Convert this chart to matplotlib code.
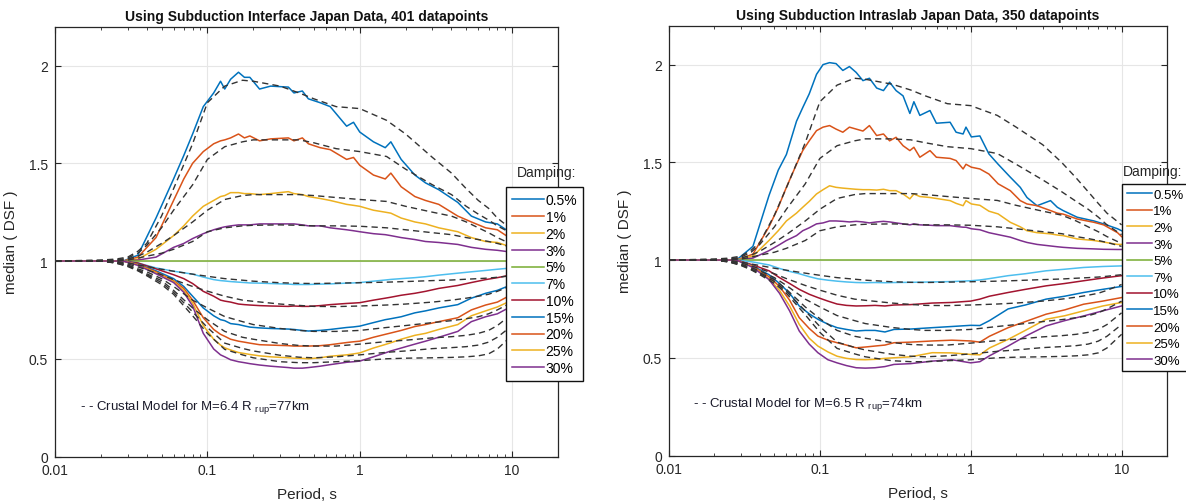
import numpy as np
import matplotlib
matplotlib.use('Agg')
import matplotlib.pyplot as plt
from matplotlib.ticker import LogLocator, NullFormatter
import matplotlib.transforms as mtransforms

plt.rcParams['font.family'] = ['Liberation Sans', 'DejaVu Sans']
plt.rcParams['mathtext.fontset'] = 'custom'
plt.rcParams['mathtext.rm'] = 'Liberation Sans'
plt.rcParams['mathtext.it'] = 'Liberation Sans'

# ---------------- data ----------------
DAMPING_LABELS = ['0.5%', '1%', '2%', '3%', '5%', '7%', '10%', '15%', '20%', '25%', '30%']
COLORS = ['#0072BD', '#D95319', '#EDB120', '#7E2F8E', '#77AC30', '#4DBEEE',
          '#A2142F', '#0072BD', '#D95319', '#EDB120', '#7E2F8E']

TITLE_L = 'Using Subduction Interface Japan Data, 401 datapoints'
TITLE_R = 'Using Subduction Intraslab Japan Data, 350 datapoints'
NOTE_L = r'- - Crustal Model for M=6.4 R $_{\rm rup}$=77km'
NOTE_R = r'- - Crustal Model for M=6.5 R $_{\rm rup}$=74km'

X_TICKS = [0.01, 0.1, 1, 10]
X_TICKLABELS = ['0.01', '0.1', '1', '10']
Y_TICKS = [0, 0.5, 1, 1.5, 2]
Y_TICKLABELS = ['0', '0.5', '1', '1.5', '2']

# flat 5% reference
PERIOD_FLAT = [0.01, 10]
DSF_5 = [1.0, 1.0]

# ---- left chart: observed medians ----
PERIOD_L = [0.01, 0.02, 0.028, 0.035, 0.046, 0.06, 0.07, 0.08, 0.094, 0.11, 0.122, 0.13,
            0.142, 0.16, 0.175, 0.19, 0.22, 0.26, 0.34, 0.37, 0.42, 0.46, 0.55, 0.64,
            0.82, 0.91, 1.0, 1.23, 1.47, 1.6, 1.87, 2.3, 2.7, 3.3, 4.4, 5.4, 6.7, 8, 10]
L_05 = [1.0, 1.0, 1.0, 1.03, 1.22, 1.42, 1.54, 1.65, 1.79, 1.86, 1.92, 1.88, 1.93, 1.966,
        1.94, 1.94, 1.88, 1.895, 1.89, 1.86, 1.87, 1.83, 1.81, 1.79, 1.69, 1.71, 1.66, 1.61,
        1.58, 1.61, 1.52, 1.44, 1.40, 1.365, 1.30, 1.23, 1.20, 1.19, 1.14]
L_1 = [1.0, 1.0, 1.0, 1.02, 1.12, 1.31, 1.42, 1.50, 1.56, 1.60, 1.615, 1.62, 1.63, 1.65,
       1.63, 1.64, 1.615, 1.625, 1.63, 1.615, 1.63, 1.60, 1.58, 1.57, 1.52, 1.53, 1.49, 1.44,
       1.42, 1.45, 1.38, 1.33, 1.31, 1.29, 1.23, 1.20, 1.17, 1.16, 1.11]
L_2 = [1.0, 1.0, 1.0, 1.01, 1.06, 1.13, 1.18, 1.23, 1.28, 1.31, 1.33, 1.335, 1.35, 1.35,
       1.345, 1.345, 1.34, 1.345, 1.355, 1.345, 1.34, 1.33, 1.32, 1.31, 1.29, 1.285, 1.28,
       1.26, 1.25, 1.245, 1.22, 1.20, 1.19, 1.17, 1.15, 1.12, 1.10, 1.095, 1.07]
L_3 = [1.0, 1.0, 1.0, 1.005, 1.02, 1.07, 1.09, 1.115, 1.14, 1.16, 1.17, 1.175, 1.18, 1.185,
       1.185, 1.185, 1.19, 1.19, 1.19, 1.19, 1.185, 1.18, 1.18, 1.17, 1.16, 1.155, 1.15,
       1.14, 1.135, 1.13, 1.12, 1.11, 1.10, 1.095, 1.085, 1.07, 1.06, 1.055, 1.045]
L_7 = [1.0, 1.0, 1.0, 0.99, 0.965, 0.948, 0.94, 0.933, 0.918, 0.905, 0.90, 0.898, 0.895,
       0.892, 0.89, 0.888, 0.887, 0.885, 0.882, 0.88, 0.88, 0.88, 0.882, 0.883, 0.887, 0.888,
       0.89, 0.897, 0.903, 0.906, 0.91, 0.915, 0.92, 0.928, 0.938, 0.945, 0.952, 0.958, 0.965]
L_10 = [1.0, 1.0, 1.0, 0.99, 0.96, 0.93, 0.91, 0.885, 0.845, 0.82, 0.80, 0.795, 0.79, 0.78,
        0.777, 0.775, 0.772, 0.77, 0.768, 0.77, 0.768, 0.768, 0.772, 0.777, 0.783, 0.785,
        0.787, 0.80, 0.81, 0.815, 0.825, 0.835, 0.845, 0.86, 0.875, 0.89, 0.905, 0.915, 0.93]
L_15 = [1.0, 1.0, 1.0, 0.985, 0.95, 0.91, 0.87, 0.82, 0.76, 0.72, 0.70, 0.695, 0.68, 0.675,
        0.668, 0.662, 0.658, 0.655, 0.652, 0.65, 0.645, 0.642, 0.645, 0.65, 0.66, 0.663,
        0.667, 0.685, 0.70, 0.705, 0.715, 0.735, 0.745, 0.76, 0.777, 0.81, 0.835, 0.85, 0.88]
L_20 = [1.0, 1.0, 1.0, 0.983, 0.945, 0.90, 0.86, 0.80, 0.71, 0.65, 0.625, 0.615, 0.60, 0.59,
        0.585, 0.58, 0.572, 0.57, 0.567, 0.565, 0.565, 0.565, 0.567, 0.572, 0.583, 0.587,
        0.59, 0.61, 0.625, 0.632, 0.645, 0.665, 0.675, 0.69, 0.71, 0.75, 0.775, 0.79, 0.83]
L_25 = [1.0, 1.0, 1.0, 0.98, 0.94, 0.895, 0.85, 0.785, 0.67, 0.60, 0.57, 0.556, 0.545, 0.532,
        0.527, 0.522, 0.515, 0.51, 0.505, 0.503, 0.502, 0.50, 0.505, 0.513, 0.52, 0.525,
        0.53, 0.555, 0.573, 0.582, 0.60, 0.62, 0.63, 0.65, 0.675, 0.72, 0.745, 0.765, 0.80]
L_30 = [1.0, 1.0, 1.0, 0.978, 0.935, 0.89, 0.84, 0.77, 0.63, 0.55, 0.52, 0.51, 0.495, 0.485,
        0.48, 0.475, 0.468, 0.462, 0.455, 0.452, 0.452, 0.455, 0.462, 0.47, 0.482, 0.485,
        0.488, 0.51, 0.53, 0.54, 0.555, 0.575, 0.59, 0.61, 0.64, 0.69, 0.715, 0.73, 0.77]

# ---- crustal model curves ----
PERIOD_M = [0.01, 0.02, 0.025, 0.03, 0.035, 0.04, 0.05, 0.06, 0.08, 0.1, 0.13, 0.17, 0.2,
            0.3, 0.4, 0.5, 0.7, 1, 1.5, 2, 3, 4, 5, 6, 7, 8, 10]
ML_05 = [1.0, 1.005, 1.01, 1.02, 1.05, 1.09, 1.23, 1.37, 1.60, 1.81, 1.895, 1.925, 1.92,
         1.895, 1.86, 1.83, 1.79, 1.78, 1.72, 1.65, 1.53, 1.45, 1.37, 1.31, 1.27, 1.22, 1.16]
ML_1 = [1.0, 1.003, 1.005, 1.015, 1.04, 1.08, 1.17, 1.26, 1.39, 1.52, 1.585, 1.61, 1.62,
        1.62, 1.62, 1.605, 1.575, 1.56, 1.535, 1.47, 1.39, 1.34, 1.28, 1.24, 1.21, 1.18, 1.14]
ML_2 = [1.0, 1.002, 1.004, 1.01, 1.025, 1.045, 1.09, 1.13, 1.20, 1.26, 1.315, 1.335, 1.34,
        1.34, 1.34, 1.335, 1.325, 1.315, 1.305, 1.28, 1.25, 1.23, 1.20, 1.17, 1.145, 1.12, 1.085]
ML_3 = [1.0, 1.001, 1.002, 1.005, 1.015, 1.025, 1.04, 1.06, 1.10, 1.15, 1.17, 1.18, 1.183,
        1.185, 1.183, 1.18, 1.18, 1.178, 1.17, 1.16, 1.145, 1.135, 1.12, 1.11, 1.10, 1.09, 1.07]
ML_7 = [1.0, 1.0, 0.998, 0.99, 0.98, 0.972, 0.958, 0.948, 0.933, 0.922, 0.91, 0.902, 0.897,
        0.889, 0.886, 0.885, 0.887, 0.889, 0.892, 0.895, 0.90, 0.903, 0.907, 0.91, 0.913, 0.917, 0.925]
ML_10 = [1.0, 1.0, 0.995, 0.985, 0.97, 0.955, 0.93, 0.905, 0.87, 0.846, 0.82, 0.80, 0.794,
         0.78, 0.773, 0.768, 0.767, 0.77, 0.775, 0.78, 0.79, 0.80, 0.81, 0.82, 0.83, 0.845, 0.875]
ML_15 = [1.0, 1.0, 0.993, 0.98, 0.96, 0.945, 0.91, 0.87, 0.80, 0.76, 0.716, 0.69, 0.675,
         0.655, 0.645, 0.64, 0.64, 0.645, 0.66, 0.67, 0.685, 0.695, 0.705, 0.715, 0.73, 0.75, 0.79]
ML_20 = [1.0, 1.0, 0.992, 0.978, 0.955, 0.935, 0.90, 0.85, 0.76, 0.70, 0.64, 0.61, 0.60,
         0.578, 0.568, 0.565, 0.565, 0.575, 0.588, 0.595, 0.607, 0.613, 0.62, 0.63, 0.645, 0.67, 0.73]
ML_25 = [1.0, 1.0, 0.99, 0.975, 0.952, 0.93, 0.89, 0.84, 0.74, 0.66, 0.58, 0.553, 0.54,
         0.518, 0.508, 0.505, 0.51, 0.52, 0.533, 0.54, 0.552, 0.557, 0.562, 0.57, 0.585, 0.61, 0.67]
ML_30 = [1.0, 1.0, 0.99, 0.972, 0.95, 0.925, 0.88, 0.83, 0.72, 0.63, 0.548, 0.52, 0.505,
         0.485, 0.48, 0.48, 0.485, 0.49, 0.50, 0.503, 0.505, 0.507, 0.51, 0.515, 0.525, 0.55, 0.62]
MR_05 = [1.0, 1.005, 1.01, 1.02, 1.05, 1.09, 1.23, 1.37, 1.60, 1.81, 1.895, 1.93, 1.925,
         1.90, 1.87, 1.84, 1.80, 1.79, 1.74, 1.68, 1.59, 1.50, 1.42, 1.35, 1.29, 1.24, 1.18]
MR_1 = [1.0, 1.003, 1.005, 1.015, 1.04, 1.08, 1.17, 1.26, 1.39, 1.52, 1.585, 1.61, 1.62,
        1.62, 1.615, 1.60, 1.58, 1.57, 1.545, 1.49, 1.41, 1.35, 1.30, 1.26, 1.22, 1.18, 1.13]

# ---- right chart: observed medians ----
PERIOD_R = [0.01, 0.02, 0.028, 0.036, 0.046, 0.053, 0.06, 0.07, 0.077, 0.085, 0.095, 0.105,
            0.116, 0.128, 0.142, 0.157, 0.174, 0.193, 0.213, 0.238, 0.264, 0.29, 0.32, 0.356,
            0.395, 0.42, 0.46, 0.537, 0.592, 0.73, 0.80, 0.89, 0.93, 1.01, 1.15, 1.32, 1.52,
            1.83, 2.13, 2.36, 2.75, 3.38, 3.75, 4.1, 5.08, 6.56, 7.6, 9.4, 10]
R_05 = [1.0, 1.0, 1.0, 1.07, 1.33, 1.46, 1.54, 1.71, 1.78, 1.85, 1.95, 2.0, 2.01, 2.005, 1.97,
        1.99, 1.96, 1.918, 1.93, 1.88, 1.867, 1.91, 1.867, 1.84, 1.75, 1.81, 1.74, 1.765, 1.70,
        1.705, 1.654, 1.645, 1.68, 1.63, 1.635, 1.543, 1.49, 1.424, 1.372, 1.32, 1.278, 1.304,
        1.27, 1.253, 1.219, 1.20, 1.185, 1.16, 1.15]
R_1 = [1.0, 1.0, 1.0, 1.03, 1.17, 1.27, 1.372, 1.49, 1.56, 1.61, 1.662, 1.68, 1.688, 1.67,
       1.654, 1.68, 1.67, 1.66, 1.688, 1.637, 1.645, 1.61, 1.628, 1.585, 1.56, 1.577, 1.526,
       1.56, 1.526, 1.52, 1.509, 1.466, 1.49, 1.475, 1.466, 1.44, 1.39, 1.355, 1.304, 1.287,
       1.278, 1.253, 1.24, 1.235, 1.21, 1.193, 1.18, 1.14, 1.12]
R_2 = [1.0, 1.0, 1.0, 1.02, 1.10, 1.15, 1.20, 1.24, 1.27, 1.30, 1.338, 1.36, 1.38, 1.372,
       1.368, 1.365, 1.362, 1.36, 1.36, 1.358, 1.362, 1.355, 1.355, 1.338, 1.313, 1.338, 1.325,
       1.32, 1.315, 1.304, 1.29, 1.278, 1.304, 1.287, 1.28, 1.25, 1.236, 1.193, 1.17, 1.15,
       1.14, 1.134, 1.128, 1.125, 1.108, 1.10, 1.092, 1.08, 1.08]
R_3 = [1.0, 1.0, 1.0, 1.01, 1.048, 1.075, 1.10, 1.125, 1.15, 1.165, 1.185, 1.19, 1.20, 1.20,
       1.198, 1.195, 1.198, 1.195, 1.19, 1.195, 1.198, 1.195, 1.19, 1.185, 1.18, 1.185, 1.18,
       1.178, 1.176, 1.176, 1.172, 1.168, 1.168, 1.16, 1.155, 1.14, 1.13, 1.117, 1.10, 1.09,
       1.08, 1.072, 1.068, 1.065, 1.06, 1.057, 1.055, 1.054, 1.054]

PERIOD_R_LOW = [0.01, 0.02, 0.028, 0.036, 0.046, 0.054, 0.063, 0.073, 0.085, 0.097, 0.113,
                0.13, 0.15, 0.174, 0.2, 0.232, 0.27, 0.31, 0.4, 0.556, 0.75, 1.0, 1.15, 1.33,
                1.77, 2.3, 3.16, 4.2, 5.6, 7.5, 10]
R_7 = [1.0, 1.0, 1.0, 0.99, 0.975, 0.957, 0.942, 0.93, 0.915, 0.904, 0.897, 0.892, 0.888,
       0.885, 0.884, 0.885, 0.884, 0.885, 0.886, 0.888, 0.89, 0.894, 0.898, 0.905, 0.92, 0.93,
       0.945, 0.953, 0.962, 0.967, 0.97]
R_10 = [1.0, 1.0, 1.0, 0.975, 0.945, 0.91, 0.88, 0.85, 0.825, 0.808, 0.79, 0.775, 0.768,
        0.765, 0.766, 0.768, 0.765, 0.77, 0.772, 0.78, 0.783, 0.79, 0.80, 0.815, 0.834, 0.85,
        0.868, 0.88, 0.894, 0.908, 0.92]
R_15 = [1.0, 1.0, 1.0, 0.97, 0.925, 0.88, 0.83, 0.765, 0.725, 0.697, 0.672, 0.654, 0.645,
        0.637, 0.64, 0.64, 0.632, 0.645, 0.647, 0.654, 0.66, 0.666, 0.665, 0.69, 0.75, 0.77,
        0.80, 0.815, 0.834, 0.85, 0.865]
R_20 = [1.0, 1.0, 1.0, 0.968, 0.915, 0.865, 0.795, 0.705, 0.65, 0.611, 0.59, 0.577, 0.565,
        0.551, 0.555, 0.56, 0.565, 0.577, 0.58, 0.586, 0.59, 0.586, 0.58, 0.61, 0.654, 0.685,
        0.723, 0.745, 0.774, 0.79, 0.808]
R_25 = [1.0, 1.0, 1.0, 0.965, 0.905, 0.845, 0.765, 0.671, 0.60, 0.56, 0.53, 0.508, 0.497,
        0.491, 0.49, 0.492, 0.497, 0.50, 0.505, 0.526, 0.525, 0.517, 0.515, 0.55, 0.594, 0.64,
        0.697, 0.715, 0.74, 0.765, 0.783]
R_30 = [1.0, 1.0, 1.0, 0.962, 0.90, 0.83, 0.74, 0.637, 0.57, 0.526, 0.49, 0.474, 0.46, 0.449,
        0.447, 0.449, 0.455, 0.466, 0.47, 0.483, 0.49, 0.474, 0.48, 0.51, 0.56, 0.61, 0.663,
        0.69, 0.714, 0.74, 0.765]

# ---------------- assemble ----------------
left_obs = [(PERIOD_L, L_05), (PERIOD_L, L_1), (PERIOD_L, L_2), (PERIOD_L, L_3),
            (PERIOD_FLAT, DSF_5), (PERIOD_L, L_7), (PERIOD_L, L_10), (PERIOD_L, L_15),
            (PERIOD_L, L_20), (PERIOD_L, L_25), (PERIOD_L, L_30)]
right_obs = [(PERIOD_R, R_05), (PERIOD_R, R_1), (PERIOD_R, R_2), (PERIOD_R, R_3),
             (PERIOD_FLAT, DSF_5), (PERIOD_R_LOW, R_7), (PERIOD_R_LOW, R_10),
             (PERIOD_R_LOW, R_15), (PERIOD_R_LOW, R_20), (PERIOD_R_LOW, R_25),
             (PERIOD_R_LOW, R_30)]
left_model = [ML_05, ML_1, ML_2, ML_3, ML_7, ML_10, ML_15, ML_20, ML_25, ML_30]
right_model = [MR_05, MR_1, ML_2, ML_3, ML_7, ML_10, ML_15, ML_20, ML_25, ML_30]

W, H = 1186, 502
fig = plt.figure(figsize=(W / 100, H / 100), dpi=100)
axL = fig.add_axes([55 / W, 1 - 457.5 / H, 503 / W, 430 / H])
axR = fig.add_axes([669 / W, 1 - 456.5 / H, 498 / W, 430 / H])


def draw(ax, obs, models, title, note, note_x, note_y):
    handles = []
    for (p, v), c in zip(obs, COLORS):
        h, = ax.plot(p, v, color=c, lw=1.1, zorder=2)
        handles.append(h)
    for m in models:
        ax.plot(PERIOD_M, m, color='#333333', lw=1.0, dashes=(4.5, 3), zorder=3)
    ax.set_xscale('log')
    ax.set_xlim(0.01, 20)
    ax.set_ylim(0, 2.2)
    ax.set_xticks(X_TICKS)
    ax.set_xticklabels(X_TICKLABELS)
    ax.xaxis.set_minor_locator(LogLocator(base=10, subs=np.arange(2, 10)))
    ax.xaxis.set_minor_formatter(NullFormatter())
    ax.set_yticks(Y_TICKS)
    ax.set_yticklabels(Y_TICKLABELS)
    ax.tick_params(which='both', direction='in', top=True, right=True,
                   colors='#262626', labelsize=10, labelcolor='#262626')
    ax.tick_params(which='major', length=4.5, width=0.8, pad=5)
    ax.tick_params(which='minor', length=2.5, width=0.6)
    ax.grid(True, which='major', color='#e6e6e6', lw=0.8)
    ax.set_axisbelow(True)
    for s in ax.spines.values():
        s.set_color('#262626')
        s.set_linewidth(0.9)
    ax.set_title(title, fontsize=10, fontweight='bold', pad=5, color='#111111')
    ax.set_xlabel('Period, s', fontsize=11, labelpad=7, color='#262626')
    ax.set_ylabel('median ( DSF )', fontsize=11, labelpad=8, color='#262626')
    tr = mtransforms.blended_transform_factory(ax.transAxes, ax.transData)
    ax.text(note_x, note_y, note, transform=tr, fontsize=9.5, va='center', ha='left',
            color='#1a1a2a')
    return handles


hL = draw(axL, left_obs, left_model, TITLE_L, NOTE_L, 0.05, 0.256)
hR = draw(axR, right_obs, right_model, TITLE_R, NOTE_R, 0.048, 0.264)

legend_specs = [(hL, 506, 188, 517, 173, 10, 2.3, 0.45, 0.2),
                (hR, 1122, 185, 1123, 172, 9.5, 1.9, 0.35, 0.33)]
for handles, x0, y0, tx, ty, fs, hlen, bpad, lsp in legend_specs:
    leg = fig.legend(handles, DAMPING_LABELS, loc='upper left',
                     bbox_to_anchor=(x0 / W, 1 - y0 / H), frameon=True, fancybox=False,
                     edgecolor='#111111', framealpha=1, fontsize=fs, handlelength=hlen,
                     handletextpad=0.1, labelspacing=lsp,
                     borderpad=bpad, borderaxespad=0)
    leg.get_frame().set_linewidth(1.0)
    fig.text(tx / W, 1 - ty / H, 'Damping:', fontsize=10, va='center', ha='left',
             color='#262626')

fig.savefig('out.png', dpi=100)
